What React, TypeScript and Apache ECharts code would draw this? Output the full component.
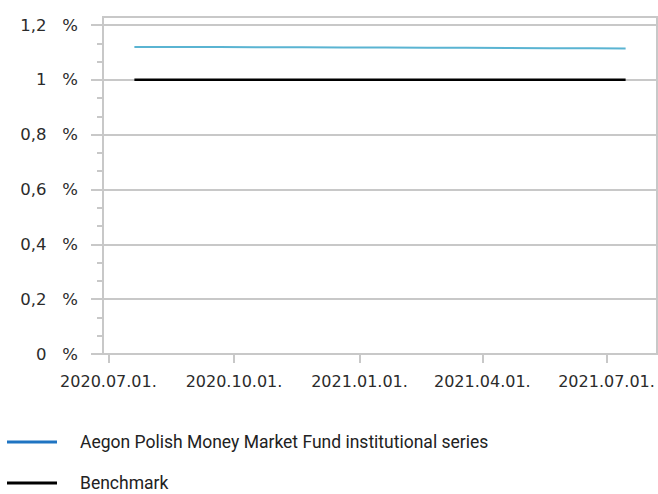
import React, { useEffect, useRef } from "react";
import * as echarts from "echarts";

const seriesNames = ["Aegon Polish Money Market Fund institutional series", "Benchmark"];
const legendColors = ["#1f74c2", "#000000"];
const dates = [
  "2020-07-20", "2020-08-20", "2020-09-20", "2020-10-20", "2020-11-20", "2020-12-20",
  "2021-01-20", "2021-02-20", "2021-03-20", "2021-04-20", "2021-05-20", "2021-06-20", "2021-07-15",
];
const fundValues = [1.12, 1.1198, 1.1195, 1.119, 1.1186, 1.1182, 1.1178, 1.1173, 1.1168, 1.1162, 1.1156, 1.115, 1.1145];
const benchmarkValues = [1.0, 1.0, 1.0, 1.0, 1.0, 1.0, 1.0, 1.0, 1.0, 1.0, 1.0, 1.0, 1.0];
const xTickDates = ["2020-07-01", "2020-10-01", "2021-01-01", "2021-04-01", "2021-07-01"];
const xMin = "2020-06-27";
const xMax = "2021-08-07";

function ts(s: string): number {
  const [y, m, d] = s.split("-").map(Number);
  return new Date(y, m - 1, d).getTime();
}
function pad(n: number) {
  return n < 10 ? "0" + n : String(n);
}
function fmtDate(v: number) {
  const d = new Date(v);
  return d.getFullYear() + "." + pad(d.getMonth() + 1) + "." + pad(d.getDate()) + ".";
}

const GRID = "#c8c8c8";
const TEXT = "#2b2b2b";

export default function App() {
  const ref = useRef<HTMLDivElement>(null);
  useEffect(() => {
    document.body.style.margin = "0";
    const chart = echarts.init(ref.current!, undefined, { renderer: "svg" });
    const tickTs = xTickDates.map(ts);
    const legendTops = [432, 473];
    chart.setOption({
      animation: false,
      grid: { left: 103, right: 1, top: 25, bottom: 140, containLabel: false },
      graphic: [
        {
          type: "rect",
          shape: { x: 103, y: 17, width: 554, height: 337 },
          style: { fill: "none", stroke: GRID, lineWidth: 2 },
          silent: true,
        },
      ],
      legend: seriesNames.map((name, i) => ({
        orient: "vertical",
        left: 7,
        top: legendTops[i],
        padding: 0,
        icon: "rect",
        itemWidth: 50,
        itemHeight: 3,
        selectedMode: false,
        textStyle: {
          fontFamily: "Roboto",
          fontSize: 17.5,
          color: "#222222",
          lineHeight: 20,
          padding: [0, 0, 0, 18],
        },
        data: [{ name, itemStyle: { color: legendColors[i] } }],
      })),
      xAxis: {
        type: "value",
        min: ts(xMin),
        max: ts(xMax),
        axisLine: { show: true, lineStyle: { color: GRID, width: 2 } },
        axisTick: {
          show: true,
          customValues: tickTs,
          length: 9,
          lineStyle: { color: GRID, width: 2 },
        },
        axisLabel: {
          customValues: tickTs,
          formatter: (v: number) => fmtDate(v),
          fontFamily: "DejaVu Sans",
          fontSize: 16,
          color: TEXT,
          margin: 19,
        },
        splitLine: { show: false },
      },
      yAxis: {
        type: "value",
        min: 0,
        max: 1.2,
        interval: 0.2,
        axisLine: { show: true, lineStyle: { color: GRID, width: 2 } },
        axisTick: { show: true, length: 12, lineStyle: { color: GRID, width: 2 } },
        minorTick: { show: true, splitNumber: 3, length: 6, lineStyle: { color: GRID, width: 2 } },
        splitLine: { show: true, lineStyle: { color: GRID, width: 2 } },
        axisLabel: {
          formatter: (v: number) => String(Math.round(v * 10) / 10).replace(".", ",") + "   %",
          fontFamily: "DejaVu Sans",
          fontSize: 16.5,
          color: TEXT,
          margin: 25,
          padding: [4, 0, 0, 0],
        },
      },
      series: [
        {
          name: seriesNames[0],
          type: "line",
          data: dates.map((d, i) => [ts(d), fundValues[i]]),
          showSymbol: false,
          symbol: "none",
          lineStyle: { color: "#5ab4d2", width: 2 },
          itemStyle: { color: legendColors[0] },
        },
        {
          name: seriesNames[1],
          type: "line",
          data: dates.map((d, i) => [ts(d), benchmarkValues[i]]),
          showSymbol: false,
          symbol: "none",
          lineStyle: { color: "#000000", width: 2.5 },
          itemStyle: { color: legendColors[1] },
        },
      ],
    });
    return () => chart.dispose();
  }, []);
  return <div ref={ref} style={{ width: 658, height: 494 }} />;
}
